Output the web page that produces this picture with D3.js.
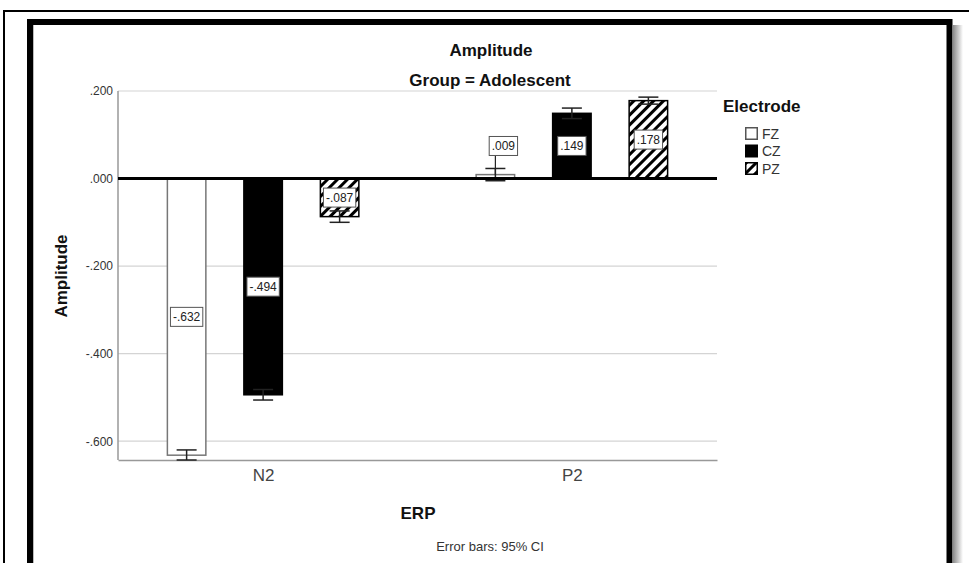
<!DOCTYPE html>
<html>
<head>
<meta charset="utf-8">
<script src="https://cdn.jsdelivr.net/npm/d3@7"></script>
<style>
  body { margin: 0; background: #fff; }
  text { font-family: "Liberation Sans", Arial, sans-serif; }
</style>
</head>
<body>
<div id="chart"></div>
<script>
// values
const erpGroups = ["N2", "P2"];
const electrodes = ["FZ", "CZ", "PZ"];
const meanFZ = [-0.632, 0.009];
const meanCZ = [-0.494, 0.149];
const meanPZ = [-0.087, 0.178];
const ciLowFZ = [-0.643, -0.005];
const ciLowCZ = [-0.506, 0.137];
const ciLowPZ = [-0.100, 0.170];
const ciHighFZ = [-0.620, 0.023];
const ciHighCZ = [-0.482, 0.161];
const ciHighPZ = [-0.074, 0.186];
const yTicks = [-0.6, -0.4, -0.2, 0, 0.2];
const yDomain = [-0.643, 0.2];

const W = 969, H = 563;
const plot = { left: 118, right: 717, top: 91, bottom: 460 };

const means = [meanFZ, meanCZ, meanPZ];
const lows = [ciLowFZ, ciLowCZ, ciLowPZ];
const highs = [ciHighFZ, ciHighCZ, ciHighPZ];
const rows = [];
erpGroups.forEach((g, gi) => {
  electrodes.forEach((e, ei) => {
    rows.push({ erp: g, electrode: e, value: means[ei][gi], lo: lows[ei][gi], hi: highs[ei][gi] });
  });
});

const svg = d3.select("#chart").append("svg")
  .attr("width", W).attr("height", H);

const defs = svg.append("defs");
defs.append("pattern")
  .attr("id", "hatch")
  .attr("patternUnits", "userSpaceOnUse")
  .attr("width", 7).attr("height", 7)
  .attr("patternTransform", "rotate(45)")
  .append("rect")
  .attr("x", 0).attr("y", 0).attr("width", 3).attr("height", 7)
  .attr("fill", "#000");

const shade = defs.append("linearGradient").attr("id", "shade");
shade.append("stop").attr("offset", "0%").attr("stop-color", "#8a8a8a");
shade.append("stop").attr("offset", "100%").attr("stop-color", "#fff");

// screenshot frame
svg.append("path")
  .attr("d", `M4,${H} V11 H${W}`)
  .attr("fill", "none").attr("stroke", "#000").attr("stroke-width", 2);
svg.append("rect")
  .attr("x", 953).attr("y", 25).attr("width", 10).attr("height", H)
  .attr("fill", "url(#shade)");
svg.append("path")
  .attr("d", `M30,${H + 5} V22 H949.5 V${H + 5}`)
  .attr("fill", "none").attr("stroke", "#000").attr("stroke-width", 6);
svg.append("line")
  .attr("x1", 33.5).attr("x2", 33.5).attr("y1", 25).attr("y2", H)
  .attr("stroke", "#bbb").attr("stroke-width", 1);

const x = d3.scalePoint().domain(erpGroups).range([plot.left, plot.right]).padding(0.47);
const xe = d3.scaleBand().domain(electrodes).range([-114.75, 114.75])
  .paddingInner(0.497).paddingOuter(0.2485);
const y = d3.scaleLinear().domain(yDomain).range([plot.bottom, plot.top]);

// SPSS style: ".200", "-.632" with a plain hyphen
const fmt = v => d3.format(".3f")(v).replace("\u2212", "-").replace("0.", ".");

// grid
svg.append("g")
  .selectAll("line")
  .data(yTicks.filter(t => t !== 0))
  .join("line")
  .attr("x1", plot.left).attr("x2", plot.right)
  .attr("y1", d => y(d)).attr("y2", d => y(d))
  .attr("stroke", "#d4d4d4").attr("stroke-width", 1.2);

// y axis
const yAxis = svg.append("g")
  .attr("transform", `translate(${plot.left},0)`)
  .call(d3.axisLeft(y).tickValues(yTicks).tickFormat(fmt).tickSize(0).tickPadding(5));
yAxis.select(".domain").remove();
yAxis.selectAll("text")
  .attr("font-size", 12).attr("fill", "#333")
  .style("font-family", '"Liberation Sans", Arial, sans-serif');

svg.append("line")
  .attr("x1", plot.left).attr("x2", plot.left)
  .attr("y1", plot.top).attr("y2", plot.bottom)
  .attr("stroke", "#999").attr("stroke-width", 1.5);

// x axis
const xAxis = svg.append("g")
  .attr("transform", `translate(0,${plot.bottom})`)
  .call(d3.axisBottom(x).tickSize(0).tickPadding(9));
xAxis.select(".domain").attr("stroke", "#999").attr("stroke-width", 1.5);
xAxis.selectAll("text")
  .attr("font-size", 17).attr("fill", "#444")
  .style("font-family", '"Liberation Sans", Arial, sans-serif');

// bars
const fills = { FZ: "#fff", CZ: "#000", PZ: "url(#hatch)" };
const strokes = { FZ: "#777", CZ: "#000", PZ: "#000" };
const barX = d => x(d.erp) + xe(d.electrode);

svg.append("g")
  .selectAll("rect")
  .data(rows)
  .join("rect")
  .attr("x", barX)
  .attr("width", xe.bandwidth())
  .attr("y", d => y(Math.max(0, d.value)))
  .attr("height", d => Math.abs(y(d.value) - y(0)))
  .attr("fill", d => fills[d.electrode])
  .attr("stroke", d => strokes[d.electrode])
  .attr("stroke-width", 1.5);

// error bars
const eb = svg.append("g").attr("stroke", "#222").attr("stroke-width", 1.5);
rows.forEach(d => {
  const cx = barX(d) + xe.bandwidth() / 2;
  eb.append("line").attr("x1", cx).attr("x2", cx).attr("y1", y(d.lo)).attr("y2", y(d.hi));
  [d.lo, d.hi].forEach(v => {
    eb.append("line").attr("x1", cx - 10).attr("x2", cx + 10).attr("y1", y(v)).attr("y2", y(v));
  });
});

// zero line
svg.append("line")
  .attr("x1", plot.left).attr("x2", plot.right)
  .attr("y1", y(0)).attr("y2", y(0))
  .attr("stroke", "#000").attr("stroke-width", 3);

// value labels
const labels = svg.append("g");
rows.forEach(d => {
  const cx = barX(d) + xe.bandwidth() / 2;
  const g = labels.append("g");
  const t = g.append("text")
    .attr("font-size", 12).attr("fill", "#222")
    .attr("text-anchor", "middle").attr("dominant-baseline", "central")
    .text(fmt(d.value));
  const tw = t.node().getComputedTextLength() + 5;
  const bh = 19;
  const inside = Math.abs(y(d.value) - y(0)) > bh + 4;
  let lx = cx, ly = (y(d.value) + y(0)) / 2;
  if (!inside) {
    lx = cx + 8;
    ly = y(d.hi) - 13 - bh / 2;
    g.insert("line", "text")
      .attr("x1", cx).attr("x2", cx)
      .attr("y1", ly + bh / 2).attr("y2", y(d.value))
      .attr("stroke", "#222").attr("stroke-width", 1.2);
  }
  g.insert("rect", "text")
    .attr("x", lx - tw / 2).attr("y", ly - bh / 2)
    .attr("width", tw).attr("height", bh)
    .attr("fill", "#fff").attr("stroke", "#555").attr("stroke-width", 1);
  t.attr("x", lx).attr("y", ly + 0.5);
});

// titles
svg.append("text").attr("x", 491).attr("y", 56).attr("text-anchor", "middle")
  .attr("font-size", 17).attr("font-weight", "bold").attr("fill", "#111").text("Amplitude");
svg.append("text").attr("x", 490).attr("y", 86).attr("text-anchor", "middle")
  .attr("font-size", 17).attr("font-weight", "bold").attr("fill", "#111").text("Group = Adolescent");
svg.append("text").attr("transform", "translate(67,276) rotate(-90)").attr("text-anchor", "middle")
  .attr("font-size", 17).attr("font-weight", "bold").attr("fill", "#111").text("Amplitude");
svg.append("text").attr("x", 418).attr("y", 519).attr("text-anchor", "middle")
  .attr("font-size", 17).attr("font-weight", "bold").attr("fill", "#111").text("ERP");
svg.append("text").attr("x", 490).attr("y", 551).attr("text-anchor", "middle")
  .attr("font-size", 13).attr("fill", "#333").text("Error bars: 95% CI");

// legend
const legend = svg.append("g").attr("transform", "translate(723,0)");
legend.append("text").attr("x", 0).attr("y", 112)
  .attr("font-size", 17).attr("font-weight", "bold").attr("fill", "#111").text("Electrode");
const item = legend.selectAll("g.item")
  .data(electrodes)
  .join("g")
  .attr("class", "item")
  .attr("transform", (d, i) => `translate(22,${127 + i * 17.5})`);
item.append("rect")
  .attr("x", 0.75).attr("y", 0.75).attr("width", 11.5).attr("height", 11.5)
  .attr("fill", d => fills[d])
  .attr("stroke", d => d === "FZ" ? "#555" : "#000").attr("stroke-width", 1.5);
item.append("text").attr("x", 17).attr("y", 11.5)
  .attr("font-size", 14).attr("fill", "#333").text(d => d);
</script>
</body>
</html>
